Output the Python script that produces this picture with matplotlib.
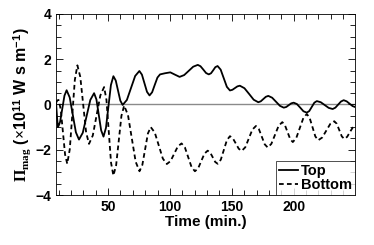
import matplotlib
matplotlib.use("Agg")
import matplotlib.pyplot as plt
from matplotlib.ticker import MultipleLocator

# values
top_time = [8, 8.8, 9.5, 10.5, 11.25, 13, 14.75, 16.5, 19, 21.5, 24, 26.5,
            29.55, 32.6, 35.65, 38.7, 40.6, 42.5, 44.4, 46.3, 48.3, 50.3, 52.3, 54.3,
            56.2, 58.05, 59.9, 61.8, 65.2, 68.55, 71.9, 75.3, 77.35, 79.4, 81.45, 83.5,
            85.6, 87.75, 89.9, 92, 96, 100.3, 104, 107.8, 111.5, 115.15, 118.8, 122.5,
            124.7, 127, 129.2, 131.4, 133.2, 135, 136.7, 138.5, 141, 143.5, 146, 148.5,
            150.5, 152.5, 154.5, 156.5, 160.2, 164, 167.7, 171.4, 173.4, 175.45, 177.5, 179.5,
            182.6, 185.75, 188.9, 192, 194, 196, 198, 200, 202.6, 205.3, 207.9, 210.6,
            212.6, 214.65, 216.7, 218.7, 221.9, 225.1, 228.3, 231.5, 233.7, 235.95, 238.2, 240.4,
            242.8, 245.2, 247.6, 250]
top_val = [0.05, -0.6, -1.0, -0.88, -0.76, -0.185, 0.39, 0.63, 0.31, -0.46, -1.23, -1.55,
           -1.25, -0.525, 0.20, 0.5, 0.22, -0.46, -1.14, -1.42, -1.03, -0.085, 0.86, 1.25,
           1.06, 0.615, 0.17, -0.02, 0.20, 0.73, 1.26, 1.48, 1.32, 0.94, 0.56, 0.4,
           0.54, 0.87, 1.19, 1.33, 1.38, 1.42, 1.32, 1.22, 1.30, 1.485, 1.67, 1.75,
           1.69, 1.54, 1.39, 1.33, 1.38, 1.515, 1.65, 1.7, 1.54, 1.16, 0.78, 0.62,
           0.65, 0.725, 0.80, 0.83, 0.72, 0.465, 0.21, 0.1, 0.14, 0.24, 0.34, 0.38,
           0.30, 0.12, -0.06, -0.14, -0.11, -0.03, 0.05, 0.08, 0.02, -0.14, -0.30, -0.36,
           -0.29, -0.105, 0.08, 0.15, 0.10, -0.025, -0.15, -0.2, -0.14, -0.005, 0.13, 0.19,
           0.14, 0.035, -0.07, -0.12]

bottom_time = [8, 9, 10, 11.75, 13.5, 15.25, 17, 19.05, 21.1, 23.15, 25.2,
               27.55, 29.9, 32.25, 34.6, 37.65, 40.7, 43.75, 46.8, 48.7, 50.55, 52.4, 54.3,
               56.5, 58.65, 60.8, 63, 66.1, 69.2, 72.3, 75.4, 77.7, 79.95, 82.2, 84.5,
               87.75, 91, 94.25, 97.5, 100.5, 103.45, 106.4, 109.4, 112.1, 114.8, 117.5, 120.2,
               122.8, 125.35, 127.9, 130.5, 132.5, 134.55, 136.6, 138.6, 141.1, 143.55, 146, 148.5,
               150.9, 153.25, 155.6, 158, 160.9, 163.75, 166.6, 169.5, 171.9, 174.25, 176.6, 179,
               181.95, 184.9, 187.85, 190.8, 192.9, 195.05, 197.2, 199.3, 202.1, 204.95, 207.8, 210.6,
               212.9, 215.2, 217.5, 219.8, 223.05, 226.3, 229.55, 232.8, 234.8, 236.85, 238.9, 240.9,
               243.2, 245.45, 247.7, 250]
bottom_val = [0.08, 0.18, 0.2, -0.21, -1.21, -2.21, -2.62, -1.98, -0.445, 1.09, 1.73,
              1.22, -0.005, -1.23, -1.74, -1.37, -0.485, 0.40, 0.77, 0.20, -1.185, -2.57, -3.14,
              -2.69, -1.595, -0.50, -0.05, -0.47, -1.5, -2.53, -2.95, -2.67, -1.975, -1.28, -1.0,
              -1.24, -1.815, -2.39, -2.63, -2.50, -2.175, -1.85, -1.72, -1.90, -2.335, -2.77, -2.95,
              -2.82, -2.495, -2.17, -2.04, -2.12, -2.33, -2.54, -2.62, -2.44, -2.01, -1.58, -1.4,
              -1.50, -1.725, -1.955, -2.05, -1.89, -1.50, -1.11, -0.95, -1.09, -1.425, -1.76, -1.9,
              -1.74, -1.34, -0.94, -0.78, -0.91, -1.22, -1.53, -1.66, -1.48, -1.04, -0.60, -0.42,
              -0.59, -1.0, -1.41, -1.58, -1.46, -1.16, -0.86, -0.74, -0.85, -1.13, -1.41, -1.52,
              -1.43, -1.22, -1.02, -0.93]

plt.rcParams['font.family'] = ['Liberation Sans', 'DejaVu Sans']
plt.rcParams['font.weight'] = 'bold'
plt.rcParams['mathtext.fontset'] = 'custom'
plt.rcParams['mathtext.rm'] = 'Liberation Serif'
plt.rcParams['mathtext.it'] = 'Liberation Serif:italic'
plt.rcParams['mathtext.bf'] = 'Liberation Sans:bold'

fig = plt.figure(figsize=(3.74, 2.45), dpi=100)
ax = fig.add_axes([0.150, 0.204, 0.799, 0.739])

ax.axhline(0, color='#8a8a8a', lw=1.0, zorder=1)
ax.plot(top_time, top_val, color='black', lw=1.3, label='Top')
ax.plot(bottom_time, bottom_val, color='black', lw=1.3, dashes=(2.6, 1.8), label='Bottom')

ax.set_xlim(8, 249.5)
ax.set_ylim(-4, 4)
ax.xaxis.set_major_locator(MultipleLocator(50))
ax.xaxis.set_minor_locator(MultipleLocator(10))
ax.yaxis.set_major_locator(MultipleLocator(2))
ax.yaxis.set_minor_locator(MultipleLocator(0.5))
ax.tick_params(which='both', direction='in', top=True, right=True, labelsize=10, width=0.6)
ax.tick_params(which='major', length=5)
ax.tick_params(which='minor', length=3.5)
for sp in ax.spines.values():
    sp.set_linewidth(0.6)

ax.set_xlabel('Time (min.)', fontsize=11, fontweight='bold', labelpad=1)
ax.set_ylabel(r'$\Pi_{\rm mag}$ ($\times$10$^{\mathbf{11}}$ W s m$^{\mathbf{-1}}$)',
              fontsize=11.5, fontweight='bold', labelpad=2)

leg = ax.legend(loc='lower right', frameon=True, fancybox=False,
                borderaxespad=0, handlelength=1.3, handletextpad=0.2,
                borderpad=0.2, labelspacing=0.0, prop={'weight': 'bold', 'size': 10.5})
leg.get_frame().set_edgecolor('black')
leg.get_frame().set_linewidth(0.6)

fig.savefig('out.png', dpi=100)
